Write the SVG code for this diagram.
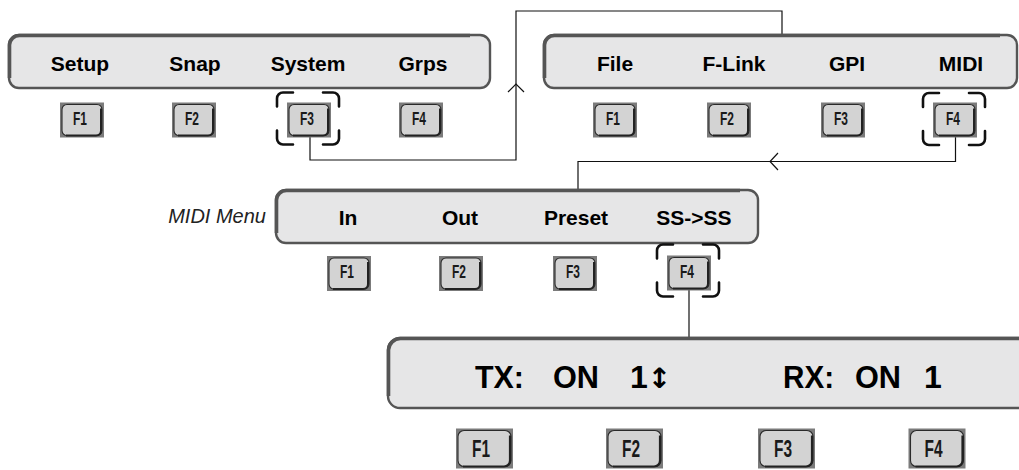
<svg xmlns="http://www.w3.org/2000/svg" xmlns:xlink="http://www.w3.org/1999/xlink" width="1019" height="470" viewBox="0 0 1019 470">
<style>
.panel{fill:#e6e6e7;stroke:#555;stroke-width:2.4}
.edge{fill:none;stroke:#555;stroke-width:3.6}
.lbl{font-family:"Liberation Sans",Arial,sans-serif;font-weight:bold;font-size:21px;fill:#000;text-anchor:middle}
.big{font-family:"Liberation Sans",Arial,sans-serif;font-weight:bold;font-size:32px;fill:#000}
.arr{font-family:"DejaVu Sans",sans-serif;font-weight:bold;font-size:28px}
.klbl{font-family:"Liberation Sans",Arial,sans-serif;font-weight:bold;font-size:19px;fill:#1a1a1a;text-anchor:middle}
.kbig{font-family:"Liberation Sans",Arial,sans-serif;font-weight:bold;font-size:24px;fill:#1a1a1a;text-anchor:middle}
.cap{font-family:"Liberation Sans",Arial,sans-serif;font-style:italic;font-size:20px;fill:#222;text-anchor:end}
.conn{fill:none;stroke:#111;stroke-width:1.2}
.brk{fill:none;stroke:#111;stroke-width:2.6;stroke-linecap:round}
</style>
<defs>
<g id="keyS">
<rect width="44" height="35" fill="#7b7b7b"/>
<rect x="2" y="2" width="40" height="31" rx="5" fill="#d3d3d3" stroke="#2a2a2a" stroke-width="1.1"/>
<path d="M41,6 V28 A5,5 0 0 1 36,33 H6" fill="none" stroke="#222" stroke-width="2"/>
</g>
<g id="keyL">
<rect width="57" height="40" fill="#7b7b7b"/>
<rect x="2" y="2" width="53" height="36" rx="6" fill="#d3d3d3" stroke="#2a2a2a" stroke-width="1.1"/>
<path d="M54,7 V32 A6,6 0 0 1 48,38 H7" fill="none" stroke="#222" stroke-width="2.2"/>
</g>
<path id="bracket" class="brk" d="M16,0 H6 A6,6 0 0 0 0,6 V14 M46,0 H56 A6,6 0 0 1 62,6 V14 M0,38 V46 A6,6 0 0 0 6,52 H16 M62,38 V46 A6,6 0 0 1 56,52 H46"/>
</defs>

<g id="connectors">
<polyline class="conn" points="310,137 310,160 516,160 516,11 782,11 782,35"/>
<polyline class="conn" points="508,92 516,84 524,92"/>
<polyline class="conn" points="955.5,137 955.5,161.5 578,161.5 578,190"/>
<polyline class="conn" points="778,153 770,161.5 778,170"/>
<polyline class="conn" points="689,290 689,338"/>
</g>

<g id="menu-main">
<rect class="panel" x="9" y="35" width="481" height="53" rx="10"/>
<path class="edge" d="M9.5,78 V45 A10,10 0 0 1 19.5,35.5 H470"/>
<text class="lbl" x="80" y="71">Setup</text>
<text class="lbl" x="195" y="71">Snap</text>
<text class="lbl" x="308" y="71">System</text>
<text class="lbl" x="423" y="71">Grps</text>
</g>
<g id="m1-f1"><use href="#keyS" x="60" y="102.5"/><text class="klbl" x="80" y="124.5" textLength="14" lengthAdjust="spacingAndGlyphs">F1</text></g>
<g id="m1-f2"><use href="#keyS" x="172" y="102.5"/><text class="klbl" x="192" y="124.5" textLength="14" lengthAdjust="spacingAndGlyphs">F2</text></g>
<g id="m1-f3"><use href="#keyS" x="287" y="102.5"/><text class="klbl" x="307" y="124.5" textLength="14" lengthAdjust="spacingAndGlyphs">F3</text><use href="#bracket" x="277" y="92.5"/></g>
<g id="m1-f4"><use href="#keyS" x="399" y="102.5"/><text class="klbl" x="419" y="124.5" textLength="14" lengthAdjust="spacingAndGlyphs">F4</text></g>

<g id="menu-system">
<rect class="panel" x="544" y="35" width="473" height="53" rx="10"/>
<path class="edge" d="M544.5,78 V45 A10,10 0 0 1 554.5,35.5 H1000"/>
<text class="lbl" x="615" y="71">File</text>
<text class="lbl" x="734" y="71">F-Link</text>
<text class="lbl" x="847" y="71">GPI</text>
<text class="lbl" x="961" y="71">MIDI</text>
</g>
<g id="m2-f1"><use href="#keyS" x="593" y="102.5"/><text class="klbl" x="613" y="124.5" textLength="14" lengthAdjust="spacingAndGlyphs">F1</text></g>
<g id="m2-f2"><use href="#keyS" x="707" y="102.5"/><text class="klbl" x="727" y="124.5" textLength="14" lengthAdjust="spacingAndGlyphs">F2</text></g>
<g id="m2-f3"><use href="#keyS" x="821" y="102.5"/><text class="klbl" x="841" y="124.5" textLength="14" lengthAdjust="spacingAndGlyphs">F3</text></g>
<g id="m2-f4"><use href="#keyS" x="933" y="102.5"/><text class="klbl" x="953" y="124.5" textLength="14" lengthAdjust="spacingAndGlyphs">F4</text><use href="#bracket" x="923" y="93"/></g>

<g id="menu-midi">
<text class="cap" x="266" y="223">MIDI Menu</text>
<rect class="panel" x="276" y="190" width="482" height="53" rx="10"/>
<path class="edge" d="M276.5,233 V200 A10,10 0 0 1 286.5,190.5 H740"/>
<text class="lbl" x="348" y="225">In</text>
<text class="lbl" x="460" y="225">Out</text>
<text class="lbl" x="576" y="225">Preset</text>
<text class="lbl" x="694" y="225">SS-&gt;SS</text>
</g>
<g id="m3-f1"><use href="#keyS" x="327" y="256"/><text class="klbl" x="347" y="278" textLength="14" lengthAdjust="spacingAndGlyphs">F1</text></g>
<g id="m3-f2"><use href="#keyS" x="439" y="256"/><text class="klbl" x="459" y="278" textLength="14" lengthAdjust="spacingAndGlyphs">F2</text></g>
<g id="m3-f3"><use href="#keyS" x="553" y="256"/><text class="klbl" x="573" y="278" textLength="14" lengthAdjust="spacingAndGlyphs">F3</text></g>
<g id="m3-f4"><use href="#keyS" x="667" y="255.5"/><text class="klbl" x="687" y="277.5" textLength="14" lengthAdjust="spacingAndGlyphs">F4</text><use href="#bracket" x="657" y="244.5"/></g>

<g id="ss-display">
<rect class="panel" x="388" y="338" width="650" height="70" rx="12"/>
<path class="edge" d="M388.5,396 V350 A12,12 0 0 1 400.5,338.5 H1019"/>
<text class="big" x="475" y="388" textLength="49" lengthAdjust="spacingAndGlyphs">TX:</text>
<text class="big" x="553" y="388" textLength="46" lengthAdjust="spacingAndGlyphs">ON</text>
<text class="big" x="630" y="388">1<tspan class="arr">↕</tspan></text>
<text class="big" x="783" y="388" textLength="51" lengthAdjust="spacingAndGlyphs">RX:</text>
<text class="big" x="855" y="388" textLength="46" lengthAdjust="spacingAndGlyphs">ON</text>
<text class="big" x="924" y="388">1</text>
</g>
<g id="m4-f1"><use href="#keyL" x="456" y="428.5"/><text class="kbig" x="481" y="457" textLength="18" lengthAdjust="spacingAndGlyphs">F1</text></g>
<g id="m4-f2"><use href="#keyL" x="606" y="428.5"/><text class="kbig" x="631" y="457" textLength="18" lengthAdjust="spacingAndGlyphs">F2</text></g>
<g id="m4-f3"><use href="#keyL" x="758" y="428.5"/><text class="kbig" x="783" y="457" textLength="18" lengthAdjust="spacingAndGlyphs">F3</text></g>
<g id="m4-f4"><use href="#keyL" x="908.5" y="428.5"/><text class="kbig" x="933.5" y="457" textLength="18" lengthAdjust="spacingAndGlyphs">F4</text></g>
</svg>
